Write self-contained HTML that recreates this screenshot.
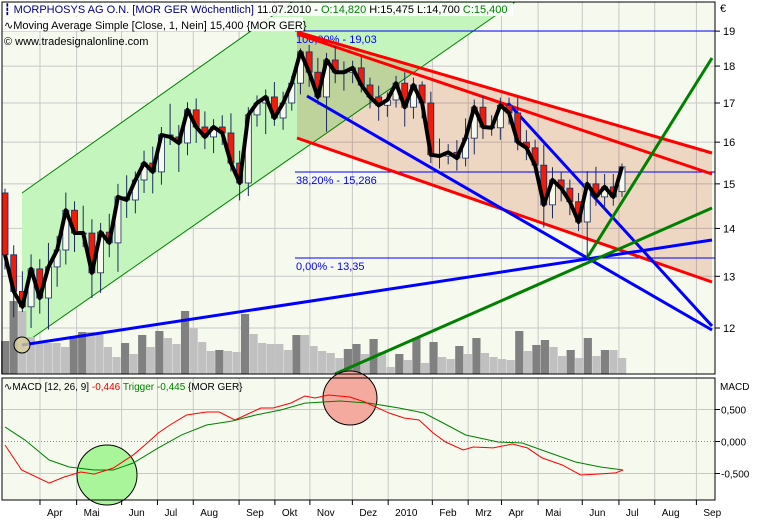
<!DOCTYPE html>
<html><head><meta charset="utf-8"><style>
body{margin:0;background:#fff;}
svg{display:block;font-family:"Liberation Sans",sans-serif;}
</style></head><body>
<svg id="chart" width="769" height="520" viewBox="0 0 769 520" xmlns="http://www.w3.org/2000/svg">
<rect x="0" y="0" width="769" height="520" fill="#fff"/>
<rect x="2" y="2" width="713" height="372" fill="#f6faee" stroke="none"/>
<rect x="2" y="378" width="713" height="122" fill="#f6faee" stroke="none"/>
<g id="grid"></g>
<g id="drawings">
  <polygon points="22,193 292,2 515,2 22,345" fill="#c4f5bd"/>
  <polygon points="297,32 712,153 712,282 297,138" fill="#f5d9cc" style="mix-blend-mode:multiply" opacity="0.9"/>
  <line x1="22" y1="193" x2="292" y2="2" stroke="#008000" stroke-width="1"/>
  <line x1="22" y1="345" x2="515" y2="2" stroke="#008000" stroke-width="1"/>
</g>
<g id="volume"></g>
<g id="drawings2">
  <line x1="295" y1="31" x2="715" y2="31" stroke="#0000ff" stroke-width="1"/>
  <line x1="295" y1="172" x2="715" y2="172" stroke="#0000ff" stroke-width="1"/>
  <line x1="295" y1="258" x2="715" y2="258" stroke="#0000ff" stroke-width="1"/>
  <text x="296" y="43" font-size="11" fill="#0000ff">100,00% - 19,03</text>
  <text x="296" y="184" font-size="11" fill="#0000ff">38,20% - 15,286</text>
  <text x="296" y="270" font-size="11" fill="#0000ff">0,00% - 13,35</text>
  <line x1="297" y1="32" x2="712" y2="153" stroke="#ff0000" stroke-width="3"/>
  <line x1="297" y1="34" x2="712" y2="174" stroke="#ff0000" stroke-width="3"/>
  <line x1="297" y1="138" x2="712" y2="282" stroke="#ff0000" stroke-width="3"/>
  <line x1="307" y1="96" x2="712" y2="330" stroke="#0000ff" stroke-width="3"/>
  <line x1="508" y1="103" x2="712" y2="326" stroke="#0000ff" stroke-width="3"/>
  <line x1="22" y1="345" x2="712" y2="240" stroke="#0000ff" stroke-width="3"/>
  <line x1="335" y1="374" x2="712" y2="208" stroke="#008000" stroke-width="3"/>
  <line x1="587" y1="258" x2="712" y2="58" stroke="#008000" stroke-width="3"/>
  <circle cx="22" cy="345" r="8" fill="#d8cf9c" fill-opacity="0.8" stroke="#000"/>
</g>
<g id="candles"></g>
<g id="maline"></g>
<g id="macd">
  <circle cx="107" cy="475" r="30" fill="#a8f59a" stroke="#000"/>
  <circle cx="350" cy="398" r="27" fill="#f5aaa0" stroke="#000"/>
</g>
<rect x="2" y="2" width="713" height="372" fill="none" stroke="#000"/>
<rect x="2" y="378" width="713" height="122" fill="none" stroke="#000"/>
<g id="axes"></g>
<g font-size="11">
  <rect x="3" y="3" width="510" height="13" fill="#fff" fill-opacity="0.85"/>
  <rect x="3" y="17" width="300" height="14" fill="#fff" fill-opacity="0.85"/>
  <text x="4" y="13"><tspan fill="#000080">┇ MORPHOSYS AG O.N. [MOR GER  Wöchentlich]</tspan><tspan fill="#000"> 11.07.2010 - </tspan><tspan fill="#008000">O:14,820</tspan><tspan fill="#000"> H:15,475 L:14,700 </tspan><tspan fill="#008000">C:15,400</tspan></text>
  <text x="4" y="29" fill="#000">∿Moving Average Simple [Close, 1, Nein] 15,400 {MOR GER}</text>
  <text x="4" y="45" fill="#000">© www.tradesignalonline.com</text>
  <text x="720" y="12" fill="#000">€</text>
  <text x="4" y="390" fill="#000" font-size="10">∿MACD [12, 26, 9] <tspan fill="#e00000">-0,446</tspan> <tspan fill="#008000">Trigger -0,445</tspan> {MOR GER}</text>
  <text x="720" y="390" fill="#000" font-size="10">MACD</text>
</g>
</svg>
<script>
const closes=[13.44,12.7,12.40,13.15,12.57,13.19,13.54,14.40,13.90,13.90,13.07,13.92,13.69,14.70,14.63,15.09,15.49,15.28,16.18,16.13,15.98,16.82,16.38,16.13,16.38,16.23,15.49,15.02,16.69,17.0,17.16,16.61,17.0,17.53,18.40,17.83,17.16,18.17,17.83,17.83,17.95,17.48,17.16,16.94,17.08,17.53,16.89,17.48,17.0,15.69,15.66,15.75,15.61,16.10,16.89,16.38,16.36,16.94,16.74,16.0,15.86,15.44,14.52,15.09,14.90,14.59,14.14,15.0,14.70,14.93,14.70,15.40];
const opens=[14.79,13.44,12.7,12.40,13.15,12.57,13.19,13.54,14.40,13.90,13.90,13.07,13.92,13.69,14.70,14.63,15.09,15.49,15.28,16.18,16.13,15.98,16.82,16.38,16.13,16.38,16.23,15.49,15.02,16.69,17.0,17.16,16.61,17.0,17.53,18.40,17.83,17.16,18.17,17.83,17.83,17.95,17.48,17.16,16.94,17.08,17.53,16.89,17.48,17.0,15.69,15.66,15.75,15.61,16.10,16.89,16.38,16.36,16.94,16.74,16.0,15.86,15.44,14.52,15.09,14.90,14.59,14.14,15.0,14.70,14.93,14.82];
const wickUp=[0.1,0.2,0.4,0.3,0.2,0.5,0.3,0.4,0.2,0.6,0.3,0.2,0.4,0.3,0.5,0.2,0.3,0.4,0.2,0.8,0.3,0.2,0.3,0.4,0.2,0.3,0.5,0.3,0.2,0.2,0.2,0.4,0.3,0.2,0.1,0.2,0.4,0.2,0.4,0.3,0.2,0.3,0.2,0.3,0.2,0.2,0.3,0.2,0.1,0.3,0.4,0.2,0.3,0.5,0.2,0.3,0.3,0.2,0.2,0.4,0.3,0.2,0.5,0.3,0.2,0.2,0.2,0.3,0.4,0.3,0.3,0.08];
const wickDn=[0.3,0.5,0.1,0.4,0.3,0.6,0.4,0.3,0.4,0.3,0.5,0.4,0.3,0.6,0.4,0.3,0.3,0.5,0.3,0.2,0.7,0.3,0.4,0.3,0.4,0.3,0.2,0.4,0.3,0.3,0.8,0.2,0.3,0.2,0.3,0.4,0.2,0.9,0.3,0.5,0.3,0.2,0.3,0.4,0.3,0.2,0.5,0.3,0.4,0.2,0.3,0.2,0.3,0.2,0.4,0.3,0.2,0.3,0.3,0.2,0.3,0.2,0.5,0.3,0.3,0.3,0.2,0.79,0.2,0.3,0.2,0.12];
const volumes=[33,73,63,37,31,31,31,27,38,42,42,41,27,17,31,20,39,27,43,36,30,63,46,32,23,24,23,22,60,40,31,30,30,24,39,39,28,23,21,16,25,30,20,35,22,7,20,14,36,11,32,17,15,28,20,36,21,17,15,14,43,23,29,34,27,18,24,16,36,18,24,24,16];
const priceTicks=[12,13,14,15,16,17,18,19];
const macdTickVals=[0.5,0,-0.5];
const macdTickLabels=["0,500","0,000","-0,500"];
const macdWeeks=[0,2,5.3,7.1,9.1,10.7,13,15.4,16.8,18.4,19.8,21.8,24.2,25.7,27.6,28.9,30.7,32.2,34.3,36,37.2,38.8,41.4,43.2,46.1,47.9,49.7,51.4,52.9,55,56.2,58.6,60.9,62.7,64.5,66.9,69.1,71.3,73.3,74.2];
const macdValues=[-0.055,-0.445,-0.65,-0.555,-0.477,-0.51,-0.414,-0.21,-0.055,0.133,0.258,0.414,0.46,0.46,0.336,0.414,0.523,0.523,0.6,0.71,0.68,0.727,0.695,0.617,0.445,0.367,0.336,0.133,-0.008,-0.133,-0.086,-0.1,-0.04,-0.1,-0.258,-0.367,-0.523,-0.508,-0.49,-0.446];
const triggerWeeks=[0,2.4,5.3,7.7,10.7,13,15.4,18.4,21.2,24.2,27.3,30.1,33.1,36,40.2,43.7,47.3,50.3,52.6,55.3,59.2,62.1,65.1,68.5,71.5,74.2];
const triggerValues=[0.227,0.023,-0.289,-0.398,-0.445,-0.445,-0.336,-0.1,0.102,0.258,0.32,0.414,0.492,0.6,0.633,0.6,0.523,0.445,0.289,0.102,-0.008,-0.023,-0.164,-0.32,-0.398,-0.445];
const monthLabels=["Apr","Mai","Jun","Jul","Aug","Sep","Okt","Nov","Dez","2010","Feb","Mrz","Apr","Mai","Jun","Jul","Aug","Sep"];
const monthWeeks=[4.2,8.6,14,18.3,22.6,28.1,32.4,36.6,41.7,46,51.3,55.6,59.6,64,69.3,73.7,78,83];

const NS="http://www.w3.org/2000/svg";
function el(tag,attrs,parent){const e=document.createElementNS(NS,tag);for(const k in attrs)e.setAttribute(k,attrs[k]);parent.appendChild(e);return e;}
const yP=p=>328-646*Math.log(p/12);
const xW=w=>5+w*8.33;
const yM=v=>441.5-v*64;
const n=closes.length;
const xI=i=>5+i*(617/(n-1));
const grid=document.getElementById('grid');
priceTicks.forEach(p=>{const l=el('line',{x1:2,x2:715,y1:yP(p),y2:yP(p),stroke:'#c8c8c8'},grid);

});
monthWeeks.forEach(w=>{const x=xW(w);const l=el('line',{x1:x,x2:x,y1:2,y2:374,stroke:'#c8c8c8'},grid);


const l2=el('line',{x1:x,x2:x,y1:378,y2:500,stroke:'#c8c8c8'},grid);

});
macdTickVals.forEach(v=>{const l=el('line',{x1:2,x2:715,y1:yM(v),y2:yM(v),stroke:v===0?'#888':'#c8c8c8','stroke-dasharray':v===0?'1,2':'none'},grid);

});
// volume
const vg=document.getElementById('volume');const nv=volumes.length;
volumes.forEach((v,i)=>{const x=5+i*(617/(nv-1));const dark=i===0||v>volumes[i-1];
const r=el('rect',{x:x-4,y:374-v,width:8.2,height:v,fill:dark?'#808080':'#c0c0c0'},vg);

});
// candles
const cg=document.getElementById('candles');
closes.forEach((c,i)=>{const o=opens[i];const x=xI(i);const hi=Math.max(o,c)+wickUp[i];const lo=Math.min(o,c)-wickDn[i];
const w=el('line',{x1:x,x2:x,y1:yP(hi),y2:yP(lo),stroke:'#1a2a5a'},cg);


const top=yP(Math.max(o,c)),bot=yP(Math.min(o,c));
const b=el('rect',{x:x-3,y:top,width:6,height:Math.max(1,bot-top),fill:c<o?'#ee1c0c':'#f6faee',stroke:'#1a2a5a','stroke-width':0.8},cg);

});
const ma=el('polyline',{points:closes.map((c,i)=>xI(i)+','+yP(c)).join(' '),fill:'none',stroke:'#000','stroke-width':4,'stroke-linejoin':'round'},document.getElementById('maline'));


// macd
const mg=document.getElementById('macd');
const tl=el('polyline',{points:triggerWeeks.map((w,i)=>xW(w)+','+yM(triggerValues[i])).join(' '),fill:'none',stroke:'#008000','stroke-width':1},mg);


const ml=el('polyline',{points:macdWeeks.map((w,i)=>xW(w)+','+yM(macdValues[i])).join(' '),fill:'none',stroke:'#ff0000','stroke-width':1},mg);


// axes
const ag=document.getElementById('axes');
priceTicks.forEach(p=>{const y=yP(p);el('line',{x1:715,x2:720,y1:y,y2:y,stroke:'#000'},ag);
const t=el('text',{x:723,y:y+4,'font-size':11,fill:'#000'},ag);t.textContent=p;

});
macdTickVals.forEach((v,i)=>{const y=yM(v);el('line',{x1:715,x2:720,y1:y,y2:y,stroke:'#000'},ag);
const t=el('text',{x:721,y:y+4,'font-size':10,fill:'#000'},ag);t.textContent=macdTickLabels[i];

});
monthWeeks.forEach((w,i)=>{const x=xW(w);el('line',{x1:x,x2:x,y1:500,y2:505,stroke:'#000'},ag);
const t=el('text',{x:x+7,y:516,'font-size':10,fill:'#000'},ag);t.textContent=monthLabels[i];

});
</script>
</body></html>
